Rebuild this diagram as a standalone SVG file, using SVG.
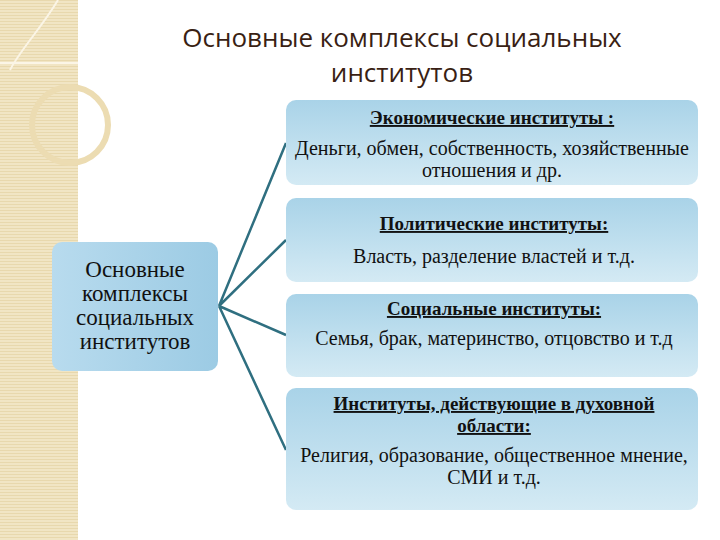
<svg xmlns="http://www.w3.org/2000/svg" width="720" height="540" viewBox="0 0 720 540">
<defs>
<linearGradient id="g" x1="0" y1="0" x2="0" y2="1"><stop offset="0" stop-color="#a9d3e8"/><stop offset="1" stop-color="#d4eaf4"/></linearGradient>
<linearGradient id="gl" x1="0" y1="0" x2="1" y2="0"><stop offset="0" stop-color="#b8dbee"/><stop offset="1" stop-color="#9ccbe4"/></linearGradient>
<pattern id="st" width="4" height="3" patternUnits="userSpaceOnUse"><rect width="4" height="3" fill="#f1e5c4"/><rect width="4" height="1" fill="#e8d8ad"/></pattern>
<style>
.b{fill:url(#g)}
.t{font-family:"Liberation Serif",serif;font-size:20px;fill:#111;text-anchor:middle}
.h{font-weight:bold;text-decoration:underline;font-size:19px}
.c{stroke:#2f6f80;stroke-width:2.5;fill:none}
</style>
</defs>
<rect width="720" height="540" fill="#fff"/>
<rect x="0" y="0" width="78" height="540" fill="url(#st)"/>
<circle cx="70" cy="125" r="38" fill="none" stroke="#ecdcb2" stroke-width="6"/>
<path d="M0 63 L78 63 M58 0 C40 30 20 50 10 70" fill="none" stroke="#fbf5e6" stroke-width="2"/>
<text x="402" y="47" font-family="Open Sans,sans-serif" font-size="26" fill="#3a1f14" text-anchor="middle">Основные комплексы социальных</text>
<text x="402" y="82" font-family="Open Sans,sans-serif" font-size="26" fill="#3a1f14" text-anchor="middle">институтов</text>
<g id="connectors">
<path class="c" d="M219 306 L286 143 M219 306 L286 240 M219 306 L286 335 M219 306 L286 450"/>
</g>
<g id="root"><rect x="52" y="242" width="166" height="129" rx="10" fill="url(#gl)"/>
<text class="t" style="font-size:23px"><tspan x="135" y="277">Основные</tspan><tspan x="135" y="301">комплексы</tspan><tspan x="135" y="325">социальных</tspan><tspan x="135" y="349">институтов</tspan></text></g>
<g id="n1"><rect class="b" x="286" y="100" width="412" height="85" rx="10"/>
<text class="t h" x="492" y="124">Экономические институты :</text>
<text class="t" x="492" y="155">Деньги, обмен, собственность, хозяйственные</text>
<text class="t" x="492" y="177">отношения и др.</text></g>
<g id="n2"><rect class="b" x="286" y="198" width="412" height="84" rx="10"/>
<text class="t h" x="494" y="230">Политические институты:</text>
<text class="t" x="494" y="263">Власть, разделение властей и т.д.</text></g>
<g id="n3"><rect class="b" x="286" y="294" width="412" height="83" rx="10"/>
<text class="t h" x="494" y="315">Социальные институты:</text>
<text class="t" x="494" y="345">Семья, брак, материнство, отцовство и т.д</text></g>
<g id="n4"><rect class="b" x="286" y="388" width="412" height="122" rx="10"/>
<text class="t h" x="494" y="410">Институты, действующие в духовной</text>
<text class="t h" x="494" y="432">области:</text>
<text class="t" x="494" y="462">Религия, образование,  общественное мнение,</text>
<text class="t" x="494" y="484">СМИ и т.д.</text></g>
</svg>
